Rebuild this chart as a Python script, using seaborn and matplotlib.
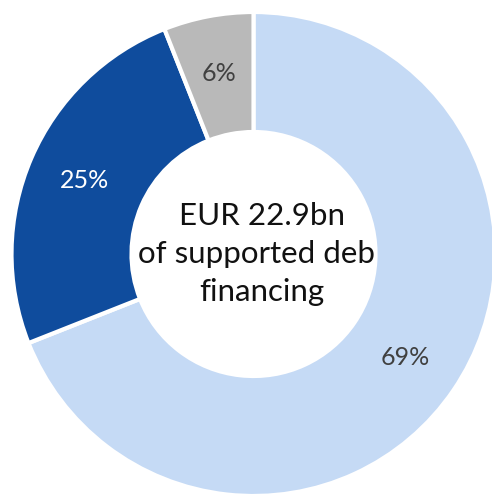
import matplotlib
matplotlib.use("Agg")
import matplotlib.pyplot as plt
from matplotlib.transforms import Bbox
import seaborn as sns

# Share of supported debt financing by segment
segments = ["Segment A", "Segment B", "Segment C"]
shares = [69, 25, 6]
colors = ["#C5DAF5", "#0F4C9D", "#B9B9B9"]
label_colors = ["#404040", "#FFFFFF", "#404040"]
center_lines = ["EUR 22.9bn", "of supported debt", "financing"]

sns.set_theme(style="white")
plt.rcParams["font.family"] = ["Lato", "DejaVu Sans"]

W, H = 492, 494
fig = plt.figure(figsize=(W / 100, H / 100), dpi=100)
ax = fig.add_axes([0, 0, 1, 1])

cx, cy = 253.5, H - 254
wedges, texts, autotexts = ax.pie(
    shares,
    colors=colors,
    startangle=90,
    counterclock=False,
    radius=242,
    center=(cx, cy),
    autopct="%d%%",
    pctdistance=0.76,
    wedgeprops=dict(width=120, edgecolor="white", linewidth=3),
    textprops=dict(fontsize=18),
)
for t, c in zip(autotexts, label_colors):
    t.set_color(c)

ax.set_xlim(0, W)
ax.set_ylim(0, H)
ax.set_aspect("equal")
ax.axis("off")

center_text = ax.text(
    262, cy, "\n".join(center_lines),
    ha="center", va="center", fontsize=22.5, color="#111111", linespacing=1.45,
)
center_text.set_clip_box(Bbox.from_extents(0, 0, 374, H))
center_text.set_clip_on(True)

fig.savefig("out.png", dpi=100)
